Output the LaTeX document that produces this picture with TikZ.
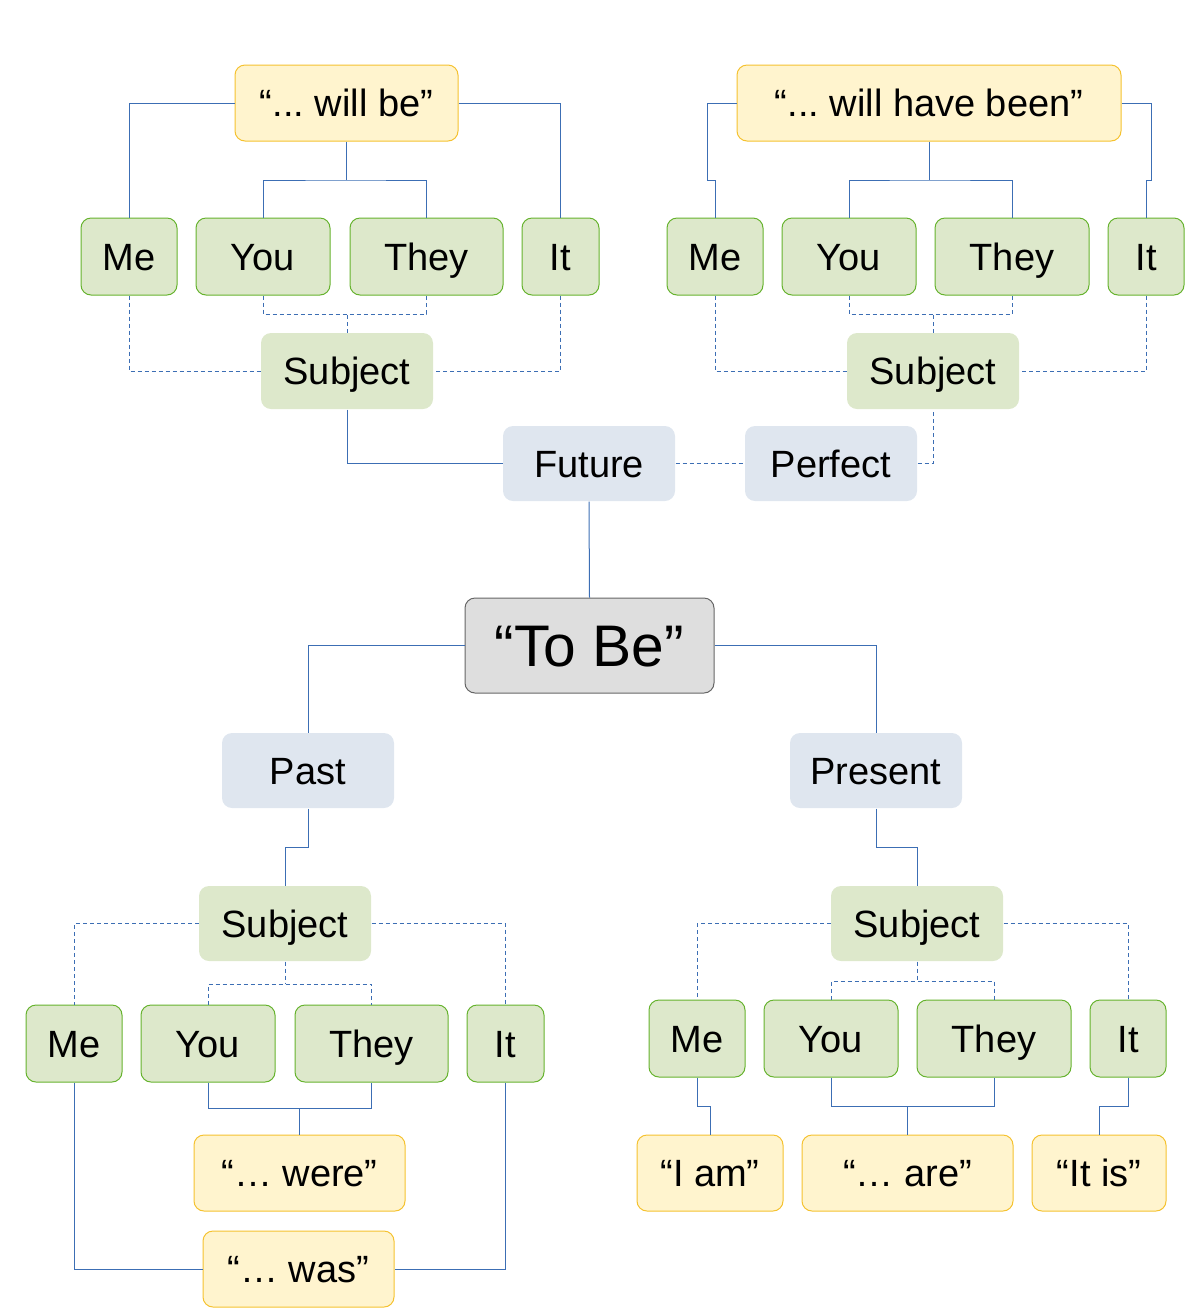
\documentclass[tikz,border=0pt]{standalone}
\usepackage{fontspec}
\setmainfont{Liberation Sans}
\frenchspacing
\definecolor{yfill}{HTML}{FFF4CE}
\definecolor{ydraw}{HTML}{F5C230}
\definecolor{gfill}{HTML}{DDE8CB}
\definecolor{gdraw}{HTML}{66B32E}
\definecolor{bfill}{HTML}{DFE6EF}
\definecolor{tfill}{HTML}{DEDEDE}
\definecolor{tdraw}{HTML}{666666}
\definecolor{lcol}{HTML}{3C6EB4}
\tikzset{
  sz/.style 2 args={minimum width=#1*0.75pt, minimum height=#2*0.75pt},
  base/.style={rounded corners=7.5pt, inner sep=0pt, font=\fontsize{28.5}{34}\selectfont\frenchspacing, line width=0.75pt, text height=20.4pt, text depth=0pt},
  ybox/.style={base, fill=yfill, draw=ydraw},
  gbox/.style={base, fill=gfill, draw=gdraw},
  sbox/.style={base, fill=gfill},
  bbox/.style={base, fill=bfill},
  tbox/.style={base, fill=tfill, draw=tdraw, font=\fontsize{44}{52}\selectfont, text height=31.5pt},
  ln/.style={draw=lcol, line width=0.75pt},
  dl/.style={draw=lcol, line width=0.75pt, dash pattern=on 3pt off 2.25pt},
}
\begin{document}
\begin{tikzpicture}[x=0.75pt, y=-0.75pt]
\useasboundingbox (0,0) rectangle (1185,1315);
% top-left
\node[ybox, sz={223}{76}] (wb) at (346.5,103) {“... will be”};
\node[gbox, sz={96}{77}] (me1) at (129,256.5) {Me};
\node[gbox, sz={134}{77}] (you1) at (263,256.5) {You};
\node[gbox, sz={153}{77}] (they1) at (426.5,256.5) {They};
\node[gbox, sz={77}{77}] (it1) at (560.5,256.5) {It};
\node[sbox, sz={172}{76}] (s1) at (347,371) {Subject};
% top-right
\node[ybox, sz={384}{76}] (wh) at (929,103) {“... will have been”};
\node[gbox, sz={96}{77}] (me2) at (715,256.5) {Me};
\node[gbox, sz={134}{77}] (you2) at (849,256.5) {You};
\node[gbox, sz={154}{77}] (they2) at (1012,256.5) {They};
\node[gbox, sz={76}{77}] (it2) at (1146,256.5) {It};
\node[sbox, sz={172}{76}] (s2) at (933,371) {Subject};
% middle
\node[bbox, sz={172}{75}] (fut) at (589,463.5) {Future};
\node[bbox, sz={172}{75}] (per) at (831,463.5) {Perfect};
\node[tbox, sz={249}{95}] (tobe) at (589.5,645.5) {“To Be”};
\node[bbox, sz={172}{75}] (past) at (308,770.5) {Past};
\node[bbox, sz={172}{75}] (pres) at (876,770.5) {Present};
% bottom-left
\node[sbox, sz={172}{75}] (s3) at (285,923.5) {Subject};
\node[gbox, sz={96}{77}] (me3) at (74,1043.5) {Me};
\node[gbox, sz={134}{77}] (you3) at (208,1043.5) {You};
\node[gbox, sz={153}{77}] (they3) at (371.5,1043.5) {They};
\node[gbox, sz={77}{77}] (it3) at (505.5,1043.5) {It};
\node[ybox, sz={211}{76}] (were) at (299.5,1173) {“… were”};
\node[ybox, sz={191}{76}] (was) at (298.5,1269) {“… was”};
% bottom-right
\node[sbox, sz={172}{75}] (s4) at (917,923.5) {Subject};
\node[gbox, sz={96}{77}] (me4) at (697,1038.5) {Me};
\node[gbox, sz={134}{77}] (you4) at (831,1038.5) {You};
\node[gbox, sz={154}{77}] (they4) at (994,1038.5) {They};
\node[gbox, sz={76}{77}] (it4) at (1128,1038.5) {It};
\node[ybox, sz={146}{76}] (iam) at (710,1173) {“I am”};
\node[ybox, sz={211}{76}] (are) at (907.5,1173) {“… are”};
\node[ybox, sz={134}{76}] (itis) at (1099,1173) {“It is”};
% junction coordinates
\coordinate (j1) at (346.5,180);
\coordinate (d1) at (347,314);
\coordinate (j2) at (929,180);
\coordinate (k1) at (707,180);
\coordinate (k2) at (1151,180);
\coordinate (d2) at (933,314);
\coordinate (d3) at (285,984);
\coordinate (e3) at (299.5,1108);
\coordinate (d4) at (917,981);
\coordinate (e4) at (907.5,1106);
% top-left connectors
\draw[ln] (wb.west) -| (me1.north);
\draw[ln] (wb.east) -| (it1.north);
\draw[ln] (wb.south) -- (j1);
\draw[ln] (you1.north) |- (j1) -| (they1.north);
\draw[dl] (me1.south) |- (s1.west);
\draw[dl] (it1.south) |- (s1.east);
\draw[dl] (s1.north) -- (d1);
\draw[dl] (you1.south) |- (d1) -| (they1.south);
\draw[ln] (s1.south) |- (fut.west);
% top-right connectors
\draw[ln] (wh.west) -| (k1) -| (me2.north);
\draw[ln] (wh.east) -| (k2) -| (it2.north);
\draw[ln] (wh.south) -- (j2);
\draw[ln] (you2.north) |- (j2) -| (they2.north);
\draw[dl] (me2.south) |- (s2.west);
\draw[dl] (it2.south) |- (s2.east);
\draw[dl] (s2.north) -- (d2);
\draw[dl] (you2.south) |- (d2) -| (they2.south);
% middle connectors
\draw[dl] (fut.east) -- (per.west);
\draw[dl] (per.east) -| (s2.south);
\draw[ln] (fut.south) -- (tobe.north);
\draw[ln] (tobe.west) -| (past.north);
\draw[ln] (tobe.east) -| (pres.north);
% bottom-left connectors
\draw[ln] (past.south) -- ++(0,39) -| (s3.north);
\draw[dl] (s3.west) -| (me3.north);
\draw[dl] (s3.east) -| (it3.north);
\draw[dl] (s3.south) -- (d3);
\draw[dl] (you3.north) |- (d3) -| (they3.north);
\draw[ln] (were.north) -- (e3);
\draw[ln] (you3.south) |- (e3) -| (they3.south);
\draw[ln] (me3.south) |- (was.west);
\draw[ln] (it3.south) |- (was.east);
% bottom-right connectors
\draw[ln] (pres.south) -- ++(0,39) -| (s4.north);
\draw[dl] (s4.west) -| (me4.north);
\draw[dl] (s4.east) -| (it4.north);
\draw[dl] (s4.south) -- (d4);
\draw[dl] (you4.north) |- (d4) -| (they4.north);
\draw[ln] (me4.south) -- ++(0,29) -| (iam.north);
\draw[ln] (are.north) -- (e4);
\draw[ln] (you4.south) |- (e4) -| (they4.south);
\draw[ln] (it4.south) -- ++(0,29) -| (itis.north);
\end{tikzpicture}
\end{document}
